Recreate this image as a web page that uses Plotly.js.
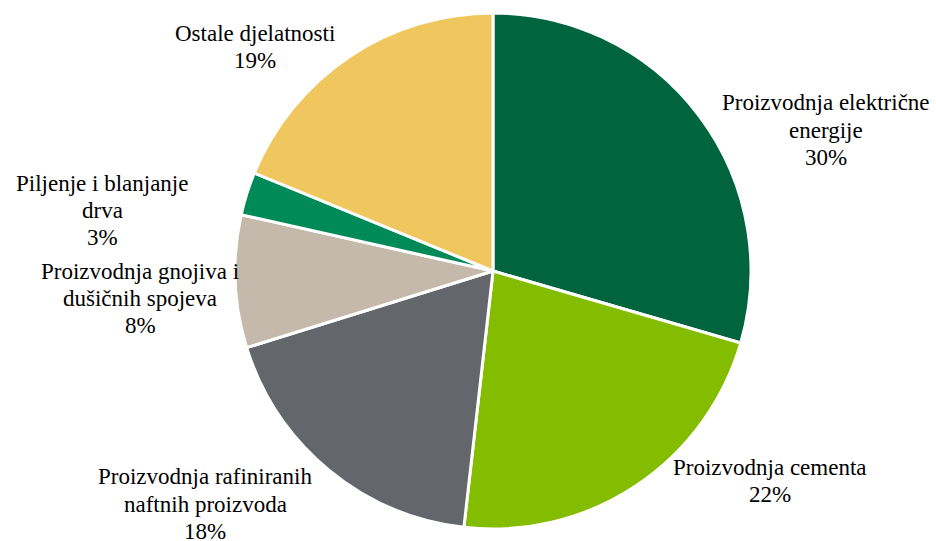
<!DOCTYPE html>
<html>
<head>
<meta charset="utf-8">
<script src="https://cdn.plot.ly/plotly-3.0.1.min.js"></script>
<style>html,body{margin:0;padding:0;background:#fff;}#chart{width:936px;height:541px;}
#chart text{font-family:'Liberation Serif','Times New Roman',serif !important;}</style>
</head>
<body>
<div id="chart"></div>
<script>
// Data
const categories = [
  "Proizvodnja električne energije",
  "Proizvodnja cementa",
  "Proizvodnja rafiniranih naftnih proizvoda",
  "Proizvodnja gnojiva i dušičnih spojeva",
  "Piljenje i blanjanje drva",
  "Ostale djelatnosti"
];
const labelLines = [
  ["Proizvodnja električne", "energije"],
  ["Proizvodnja cementa"],
  ["Proizvodnja rafiniranih", "naftnih proizvoda"],
  ["Proizvodnja gnojiva i", "dušičnih spojeva"],
  ["Piljenje i blanjanje", "drva"],
  ["Ostale djelatnosti"]
];
const shares = [29.5, 22.3, 18.4, 8.3, 2.7, 18.8];
const colors = ["#00643f", "#84bd00", "#63666a", "#c4b9ab", "#008a5a", "#f0c75e"];

// label placement: centre x and first-line y, in pixels of the 936x541 page
const labelAnchor = [
  [826, 103],
  [770, 467],
  [205, 477],
  [140, 271],
  [102, 183],
  [255, 33]
];
const W = 936, H = 541, LINE = 27.3;

const total = shares.reduce((a, b) => a + b, 0);
const annotations = [];
labelLines.forEach((lines, i) => {
  const all = lines.concat([Math.round(shares[i] / total * 100) + '%']);
  all.forEach((t, j) => {
    annotations.push({
      x: labelAnchor[i][0] / W, y: 1 - (labelAnchor[i][1] + j * LINE) / H,
      xref: 'paper', yref: 'paper', xanchor: 'center', yanchor: 'middle',
      showarrow: false, align: 'center', text: t,
      font: {family: 'Liberation Serif', size: 23, color: '#000000'}
    });
  });
});

Plotly.newPlot('chart', [{
  type: 'pie',
  labels: categories,
  values: shares,
  sort: false,
  direction: 'clockwise',
  rotation: 0,
  marker: {colors: colors, line: {color: '#ffffff', width: 3}},
  textinfo: 'none',
  hoverinfo: 'label+percent',
  domain: {x: [235/936, 751/936], y: [12/541, 528/541]}
}], {
  width: W, height: H,
  margin: {l: 0, r: 0, t: 0, b: 0},
  showlegend: false,
  font: {family: 'Liberation Serif', size: 23, color: '#000000'},
  paper_bgcolor: '#ffffff',
  annotations: annotations
}, {displayModeBar: false, staticPlot: true});
</script>
</body>
</html>
